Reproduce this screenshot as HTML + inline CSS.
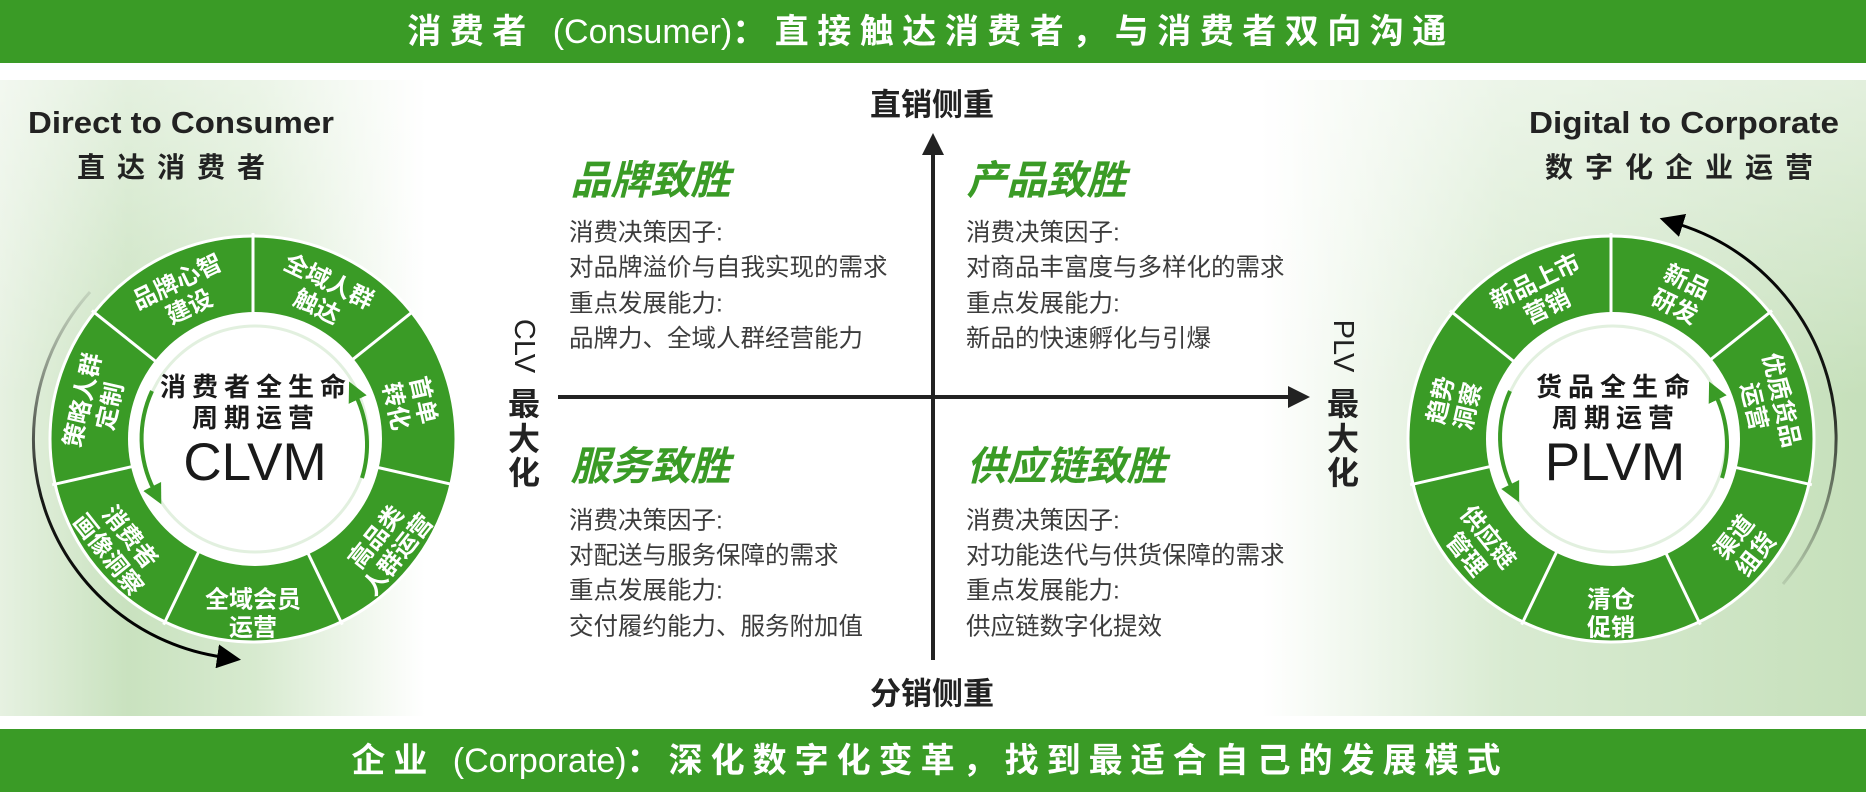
<!DOCTYPE html>
<html><head><meta charset="utf-8"><style>
html,body{margin:0;padding:0;background:#fff;}
svg{display:block;}
.cjk{font-family:"Liberation Sans","Noto Sans CJK SC",sans-serif;}
</style></head><body>
<svg width="1866" height="796" viewBox="0 0 1866 796" xmlns="http://www.w3.org/2000/svg" class="cjk">
<defs>
<linearGradient id="lg" x1="0" y1="0" x2="1" y2="0">
<stop offset="0" stop-color="#e6f1e1"/>
<stop offset="0.3" stop-color="#c9e2bf"/>
<stop offset="0.6" stop-color="#d7eacf"/>
<stop offset="1" stop-color="#ffffff"/>
</linearGradient>
<linearGradient id="rg" x1="0" y1="0" x2="1" y2="0">
<stop offset="0" stop-color="#ffffff"/>
<stop offset="0.4" stop-color="#d9ebd2"/>
<stop offset="1" stop-color="#c6e0bb"/>
</linearGradient>
<linearGradient id="vg" x1="0" y1="0" x2="0" y2="1">
<stop offset="0" stop-color="#fff" stop-opacity="0.5"/>
<stop offset="0.5" stop-color="#fff" stop-opacity="0"/>
<stop offset="1" stop-color="#fff" stop-opacity="0"/>
</linearGradient>
<linearGradient id="bl" gradientUnits="userSpaceOnUse" x1="90" y1="292" x2="200" y2="640">
<stop offset="0" stop-color="#000" stop-opacity="0.1"/>
<stop offset="0.5" stop-color="#000" stop-opacity="0.9"/>
<stop offset="1" stop-color="#000"/>
</linearGradient>
<linearGradient id="br" gradientUnits="userSpaceOnUse" x1="1783" y1="584" x2="1700" y2="240">
<stop offset="0" stop-color="#000" stop-opacity="0.1"/>
<stop offset="0.5" stop-color="#000" stop-opacity="0.9"/>
<stop offset="1" stop-color="#000"/>
</linearGradient>
<marker id="ah" viewBox="0 0 10 10" refX="2" refY="5" markerWidth="8" markerHeight="8" orient="auto" markerUnits="strokeWidth">
<path d="M0,0 L10,5 L0,10 z" fill="#000"/></marker>
<marker id="ah2" viewBox="0 0 10 10" refX="2" refY="5" markerWidth="5" markerHeight="5" orient="auto" markerUnits="strokeWidth">
<path d="M0,0 L10,5 L0,10 z" fill="#3a9b26"/></marker>
<clipPath id="cL"><circle cx="253" cy="439" r="203"/></clipPath>
<clipPath id="cR"><circle cx="1611" cy="439" r="203"/></clipPath>
</defs>

<!-- banners -->
<rect x="0" y="0" width="1866" height="63" fill="#3a9b26"/>
<rect x="0" y="729" width="1866" height="63" fill="#3a9b26"/>
<text x="931" y="43" text-anchor="middle" fill="#fff" font-size="34" font-weight="bold" letter-spacing="8.5"><tspan>消费者 </tspan><tspan font-weight="normal" letter-spacing="0">(Consumer)</tspan><tspan>：直接触达消费者，与消费者双向沟通</tspan></text>
<text x="930" y="772" text-anchor="middle" fill="#fff" font-size="34" font-weight="bold" letter-spacing="8"><tspan>企业 </tspan><tspan font-weight="normal" letter-spacing="0">(Corporate)</tspan><tspan>：深化数字化变革，找到最适合自己的发展模式</tspan></text>

<!-- side panels -->
<rect x="0" y="80" width="425" height="636" fill="url(#lg)"/>
<rect x="0" y="80" width="425" height="636" fill="url(#vg)"/>
<rect x="1262" y="80" width="604" height="636" fill="url(#rg)"/>
<rect x="1262" y="80" width="604" height="636" fill="url(#vg)"/>

<!-- headers -->
<text x="181" y="133" text-anchor="middle" font-size="31" font-weight="bold" fill="#222" textLength="306" lengthAdjust="spacingAndGlyphs">Direct to Consumer</text>
<text x="177" y="177" text-anchor="middle" font-size="28" font-weight="bold" fill="#222" letter-spacing="12">直达消费者</text>
<text x="1684" y="133" text-anchor="middle" font-size="31" font-weight="bold" fill="#222" textLength="310" lengthAdjust="spacingAndGlyphs">Digital to Corporate</text>
<text x="1685" y="177" text-anchor="middle" font-size="28" font-weight="bold" fill="#222" letter-spacing="12">数字化企业运营</text>

<!-- LEFT WHEEL -->
<g>
<circle cx="253" cy="439" r="203" fill="#3a9b26" stroke="#fff" stroke-width="3"/>
<g clip-path="url(#cL)" fill="#fff" font-size="24" font-weight="bold" text-anchor="middle" dominant-baseline="central">
<g transform="translate(253,439) rotate(-64.29) translate(160,0) rotate(90)"><text y="-14">全域人群</text><text y="14">触达</text></g>
<g transform="translate(253,439) rotate(-12.86) translate(160,0) rotate(90)"><text y="-14">首单</text><text y="14">转化</text></g>
<g transform="translate(253,439) rotate(38.57) translate(172,0) rotate(-90)"><text y="-14">高品类</text><text y="14">人群运营</text></g>
<g transform="translate(253,439) rotate(90) translate(175,0) rotate(-90)"><text y="-14">全域会员</text><text y="14">运营</text></g>
<g transform="translate(253,439) rotate(141.43) translate(172,0) rotate(-90)"><text y="-14">消费者</text><text y="14">画像洞察</text></g>
<g transform="translate(253,439) rotate(192.86) translate(160,0) rotate(90)"><text y="-14">策略人群</text><text y="14">定制</text></g>
<g transform="translate(253,439) rotate(244.29) translate(160,0) rotate(90)"><text y="-14">品牌心智</text><text y="14">建设</text></g>
</g>
<g transform="translate(253,439)" stroke="#fff" stroke-width="3">
<line x1="120" y1="0" x2="206" y2="0" transform="rotate(-90)"/>
<line x1="120" y1="0" x2="206" y2="0" transform="rotate(-38.57)"/>
<line x1="120" y1="0" x2="206" y2="0" transform="rotate(12.86)"/>
<line x1="120" y1="0" x2="206" y2="0" transform="rotate(64.29)"/>
<line x1="120" y1="0" x2="206" y2="0" transform="rotate(115.71)"/>
<line x1="120" y1="0" x2="206" y2="0" transform="rotate(167.14)"/>
<line x1="120" y1="0" x2="206" y2="0" transform="rotate(218.57)"/>
</g>
<circle cx="255" cy="439" r="127" fill="#fff"/>
<circle cx="255" cy="439" r="113" fill="none" stroke="#3a9b26" stroke-opacity="0.15" stroke-width="3"/>
<path d="M 152 391 A 113 113 0 0 0 154 490" fill="none" stroke="#3a9b26" stroke-width="4" marker-end="url(#ah2)"/>
<path d="M 362 478 A 113 113 0 0 0 356 396" fill="none" stroke="#3a9b26" stroke-width="4" marker-end="url(#ah2)"/>
<text x="256" y="387" text-anchor="middle" dominant-baseline="central" font-size="26" font-weight="bold" fill="#1a1a1a" letter-spacing="6">消费者全生命</text>
<text x="256" y="418" text-anchor="middle" dominant-baseline="central" font-size="26" font-weight="bold" fill="#1a1a1a" letter-spacing="6">周期运营</text>
<text x="255" y="480" text-anchor="middle" font-size="53" fill="#1a1a1a">CLVM</text>
<path d="M 90 292 A 220 220 0 0 0 222 657" fill="none" stroke="url(#bl)" stroke-width="3" marker-end="url(#ah)"/>
</g>

<!-- RIGHT WHEEL -->
<g>
<circle cx="1611" cy="439" r="203" fill="#3a9b26" stroke="#fff" stroke-width="3"/>
<g clip-path="url(#cR)" fill="#fff" font-size="24" font-weight="bold" text-anchor="middle" dominant-baseline="central">
<g transform="translate(1611,439) rotate(-64.29) translate(160,0) rotate(90)"><text y="-14">新品</text><text y="14">研发</text></g>
<g transform="translate(1611,439) rotate(-12.86) translate(160,0) rotate(90)"><text y="-14">优质货品</text><text y="14">运营</text></g>
<g transform="translate(1611,439) rotate(38.57) translate(172,0) rotate(-90)"><text y="-14">渠道</text><text y="14">组货</text></g>
<g transform="translate(1611,439) rotate(90) translate(175,0) rotate(-90)"><text y="-14">清仓</text><text y="14">促销</text></g>
<g transform="translate(1611,439) rotate(141.43) translate(172,0) rotate(-90)"><text y="-14">供应链</text><text y="14">管理</text></g>
<g transform="translate(1611,439) rotate(192.86) translate(160,0) rotate(90)"><text y="-14">趋势</text><text y="14">洞察</text></g>
<g transform="translate(1611,439) rotate(244.29) translate(160,0) rotate(90)"><text y="-14">新品上市</text><text y="14">营销</text></g>
</g>
<g transform="translate(1611,439)" stroke="#fff" stroke-width="3">
<line x1="120" y1="0" x2="206" y2="0" transform="rotate(-90)"/>
<line x1="120" y1="0" x2="206" y2="0" transform="rotate(-38.57)"/>
<line x1="120" y1="0" x2="206" y2="0" transform="rotate(12.86)"/>
<line x1="120" y1="0" x2="206" y2="0" transform="rotate(64.29)"/>
<line x1="120" y1="0" x2="206" y2="0" transform="rotate(115.71)"/>
<line x1="120" y1="0" x2="206" y2="0" transform="rotate(167.14)"/>
<line x1="120" y1="0" x2="206" y2="0" transform="rotate(218.57)"/>
</g>
<circle cx="1613" cy="439" r="127" fill="#fff"/>
<circle cx="1613" cy="439" r="113" fill="none" stroke="#3a9b26" stroke-opacity="0.15" stroke-width="3"/>
<path d="M 1510 391 A 113 113 0 0 0 1512 488" fill="none" stroke="#3a9b26" stroke-width="4" marker-end="url(#ah2)"/>
<path d="M 1722 478 A 113 113 0 0 0 1716 396" fill="none" stroke="#3a9b26" stroke-width="4" marker-end="url(#ah2)"/>
<text x="1616" y="387" text-anchor="middle" dominant-baseline="central" font-size="26" font-weight="bold" fill="#1a1a1a" letter-spacing="6">货品全生命</text>
<text x="1616" y="418" text-anchor="middle" dominant-baseline="central" font-size="26" font-weight="bold" fill="#1a1a1a" letter-spacing="6">周期运营</text>
<text x="1615" y="480" text-anchor="middle" font-size="53" fill="#1a1a1a">PLVM</text>
<path d="M 1783 584 A 225 225 0 0 0 1678 224" fill="none" stroke="url(#br)" stroke-width="3" marker-end="url(#ah)"/>
</g>

<!-- AXES -->
<line x1="933" y1="150" x2="933" y2="660" stroke="#222" stroke-width="4"/>
<path d="M 933 133 L 922 155 L 944 155 z" fill="#222"/>
<line x1="558" y1="397" x2="1292" y2="397" stroke="#222" stroke-width="4"/>
<path d="M 1310 397 L 1288 386 L 1288 408 z" fill="#222"/>
<text x="932" y="105" text-anchor="middle" dominant-baseline="central" font-size="31" font-weight="bold" fill="#222">直销侧重</text>
<text x="932" y="694" text-anchor="middle" dominant-baseline="central" font-size="31" font-weight="bold" fill="#222">分销侧重</text>

<text transform="translate(524,346) rotate(90)" text-anchor="middle" dominant-baseline="central" font-size="29" fill="#222">CLV</text>
<g font-size="32" font-weight="bold" fill="#222" text-anchor="middle" dominant-baseline="central">
<text x="524" y="404">最</text><text x="524" y="439">大</text><text x="524" y="473">化</text>
</g>
<text transform="translate(1343,346) rotate(90)" text-anchor="middle" dominant-baseline="central" font-size="29" fill="#222">PLV</text>
<g font-size="32" font-weight="bold" fill="#222" text-anchor="middle" dominant-baseline="central">
<text x="1343" y="404">最</text><text x="1343" y="439">大</text><text x="1343" y="473">化</text>
</g>

<!-- QUADRANTS -->
<g fill="#3a9b26" font-size="40" font-weight="bold" dominant-baseline="central">
<text transform="translate(574,180) skewX(-14)">品牌致胜</text>
<text transform="translate(970,180) skewX(-14)">产品致胜</text>
<text transform="translate(574,466) skewX(-14)">服务致胜</text>
<text transform="translate(970,466) skewX(-14)">供应链致胜</text>
</g>
<g fill="#3c3c3c" font-size="24.5" dominant-baseline="central">
<text x="569" y="233">消费决策因子:</text>
<text x="569" y="268">对品牌溢价与自我实现的需求</text>
<text x="569" y="304">重点发展能力:</text>
<text x="569" y="339">品牌力、全域人群经营能力</text>
<text x="966" y="233">消费决策因子:</text>
<text x="966" y="268">对商品丰富度与多样化的需求</text>
<text x="966" y="304">重点发展能力:</text>
<text x="966" y="339">新品的快速孵化与引爆</text>
<text x="569" y="521">消费决策因子:</text>
<text x="569" y="556">对配送与服务保障的需求</text>
<text x="569" y="591">重点发展能力:</text>
<text x="569" y="627">交付履约能力、服务附加值</text>
<text x="966" y="521">消费决策因子:</text>
<text x="966" y="556">对功能迭代与供货保障的需求</text>
<text x="966" y="591">重点发展能力:</text>
<text x="966" y="627">供应链数字化提效</text>
</g>
</svg>
</body></html>
